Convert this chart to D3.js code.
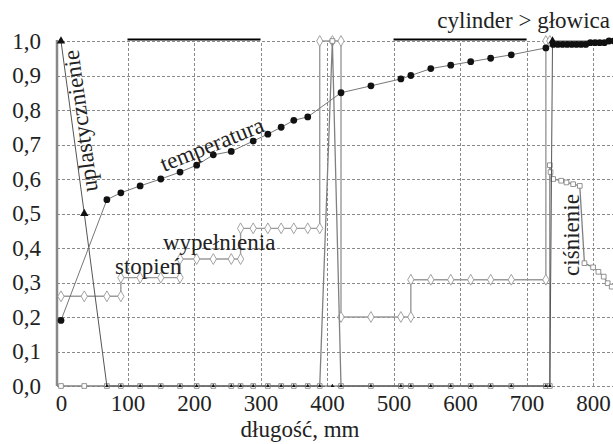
<!DOCTYPE html>
<html>
<head>
<meta charset="utf-8">
<script src="https://cdn.jsdelivr.net/npm/d3@7"></script>
<style>
  body { margin: 0; background: #fff; }
  svg text { font-family: 'Liberation Serif', 'Times New Roman', 'DejaVu Serif', serif; }
</style>
</head>
<body>
<svg id="chart" width="613" height="444"></svg>
<script>
// axis ticks
const xTicks = [0, 100, 200, 300, 400, 500, 600, 700, 800];
const yTicks = [0, 0.1, 0.2, 0.3, 0.4, 0.5, 0.6, 0.7, 0.8, 0.9, 1.0];

// temperatura (filled circles)
const tempX = [0, 69, 90, 119, 150, 179, 204, 229, 256, 289, 311, 331, 350, 371, 421, 466, 511, 526, 556, 586, 616, 646, 677, 729,
  740, 747, 754, 761, 768, 775, 782, 789, 796, 803, 810, 817, 824, 831];
const tempY = [0.19, 0.54, 0.56, 0.58, 0.60, 0.62, 0.64, 0.67, 0.68, 0.71, 0.73, 0.75, 0.77, 0.78, 0.85, 0.87, 0.89, 0.90, 0.92, 0.93, 0.94, 0.95, 0.96, 0.98,
  0.99, 0.99, 0.99, 0.99, 0.99, 0.99, 0.99, 0.99, 0.995, 0.995, 0.995, 0.995, 1.0, 1.0];

// uplastycznienie (filled triangles)
const uplX = [0, 35, 69, 90, 119, 150, 179, 204, 229, 256, 270, 289, 311, 331, 350, 371, 389, 408, 421, 466, 511, 526, 556, 586, 616, 646, 677, 729, 735, 739, 840];
const uplY = [1.0, 0.5, 0, 0, 0, 0, 0, 0, 0, 0, 0, 0, 0, 0, 0, 0, 0, 0, 0, 0, 0, 0, 0, 0, 0, 0, 0, 0, 0, 1.0, 1.0];

// stopień wypełnienia (open diamonds)
const wypX = [0, 35, 69, 90, 90, 119, 150, 179, 179, 204, 229, 256, 270, 270, 289, 311, 331, 350, 371, 389, 389, 408, 421, 421,
  466, 511, 526, 526, 556, 586, 616, 646, 677, 729, 729, 735];
const wypY = [0.26, 0.26, 0.26, 0.26, 0.314, 0.314, 0.314, 0.314, 0.368, 0.368, 0.368, 0.368, 0.368, 0.457, 0.457, 0.457, 0.457, 0.457, 0.457, 0.457, 1.0, 1.0, 1.0, 0.2,
  0.2, 0.2, 0.2, 0.308, 0.308, 0.308, 0.308, 0.308, 0.308, 0.308, 1.0, 1.0];

// ciśnienie (open squares)
const presX = [0, 35, 69, 90, 119, 150, 179, 204, 229, 256, 270, 289, 311, 331, 350, 371, 389, 408, 421, 466, 511, 526, 556, 586, 616, 646, 677, 729, 735,
  735, 736, 740, 752, 760, 770, 780, 787, 800, 808, 816, 822, 828, 836];
const presY = [0, 0, 0, 0, 0, 0, 0, 0, 0, 0, 0, 0, 0, 0, 0, 0, 0, 1.0, 0, 0, 0, 0, 0, 0, 0, 0, 0, 0, 0,
  0.64, 0.62, 0.60, 0.595, 0.59, 0.585, 0.58, 0.356, 0.344, 0.331, 0.317, 0.298, 0.288, 0.27];

// black bar segments along the top edge
const barStarts = [100, 500];
const barEnds = [300, 700];

const FONT = "'Liberation Serif', 'Times New Roman', 'DejaVu Serif', serif";

const svg = d3.select('#chart');

const x = d3.scaleLinear().domain([-6, 834]).range([57, 615.7]);
const y = d3.scaleLinear().domain([0, 1]).range([386, 41]);

// grid
const grid = svg.append('g').attr('class', 'grid')
  .attr('stroke', '#8a8a8a').attr('stroke-width', 1).attr('stroke-dasharray', '3,2');
grid.selectAll('line.v')
  .data(xTicks.filter(d => d > 0))
  .join('line')
  .attr('class', 'v')
  .attr('x1', d => Math.round(x(d)) + 0.5).attr('x2', d => Math.round(x(d)) + 0.5)
  .attr('y1', y(0)).attr('y2', y(1));
grid.selectAll('line.h')
  .data(yTicks)
  .join('line')
  .attr('class', 'h')
  .attr('x1', x(-6)).attr('x2', 613)
  .attr('y1', d => Math.round(y(d)) + 0.5).attr('y2', d => Math.round(y(d)) + 0.5);

// left axis line
svg.append('line')
  .attr('x1', x(-6)).attr('x2', x(-6))
  .attr('y1', y(0)).attr('y2', y(1) - 1)
  .attr('stroke', '#888').attr('stroke-width', 2.5);

// top bar
svg.append('g').selectAll('line')
  .data(barStarts)
  .join('line')
  .attr('x1', d => x(d)).attr('x2', (d, i) => x(barEnds[i]))
  .attr('y1', y(1) - 1.5).attr('y2', y(1) - 1.5)
  .attr('stroke', '#000').attr('stroke-width', 2);

const lineGen = d3.line().x(d => x(d[0])).y(d => y(d[1]));

function drawSeries(xs, ys, opts) {
  const pts = xs.map((v, i) => [v, ys[i]]);
  const g = svg.append('g').attr('class', opts.name);
  g.append('path')
    .datum(pts)
    .attr('fill', 'none')
    .attr('stroke', opts.stroke)
    .attr('stroke-width', opts.width)
    .attr('d', lineGen);
  g.selectAll('path.marker')
    .data(pts.filter(p => x(p[0]) < 620))
    .join('path')
    .attr('class', 'marker')
    .attr('transform', d => `translate(${x(d[0])},${y(d[1])})`)
    .attr('d', d => d3.symbol().type(opts.symbol).size(d[1] === 0 && opts.zeroSize ? opts.zeroSize : opts.size)())
    .attr('fill', opts.fill)
    .attr('stroke', opts.markerStroke)
    .attr('stroke-width', 0.9);
}

drawSeries(wypX, wypY, { name: 'wyp', stroke: '#9a9a9a', width: 1.4, symbol: d3.symbolDiamond, size: 34, fill: '#fff', markerStroke: '#999' });
drawSeries(presX, presY, { name: 'pres', stroke: '#808080', width: 1.3, symbol: d3.symbolSquare, size: 22, fill: '#fff', markerStroke: '#888' });
drawSeries(uplX, uplY, { name: 'upl', stroke: '#555', width: 1, symbol: d3.symbolTriangle, size: 30, zeroSize: 6, fill: '#111', markerStroke: 'none' });
drawSeries(tempX, tempY, { name: 'temp', stroke: '#777', width: 1, symbol: d3.symbolCircle, size: 36, fill: '#111', markerStroke: 'none' });

// axes
const fmt = d => d3.format('.1f')(d).replace('.', ',');

const xAxisG = svg.append('g')
  .attr('transform', `translate(0,${y(0)})`)
  .call(d3.axisBottom(x).tickValues(xTicks).tickSize(0).tickPadding(9).tickFormat(d3.format('d')));
xAxisG.select('.domain').remove();

const yAxisG = svg.append('g')
  .attr('transform', `translate(${x(-6)},0)`)
  .call(d3.axisLeft(y).tickValues(yTicks).tickSize(0).tickPadding(16).tickFormat(fmt));
yAxisG.select('.domain').remove();

xAxisG.attr('font-family', FONT).attr('font-size', 23);
yAxisG.attr('font-family', FONT).attr('font-size', 23);
svg.selectAll('.tick text')
  .attr('fill', '#222');

// texts
const textG = svg.append('g')
  .attr('font-family', FONT)
  .attr('font-size', 23).attr('fill', '#222');

textG.append('text')
  .attr('x', 300).attr('y', 437)
  .attr('text-anchor', 'middle')
  .text('długość, mm');

textG.append('text')
  .attr('x', 610).attr('y', 28)
  .attr('text-anchor', 'end')
  .text('cylinder > głowica');

textG.append('text')
  .attr('transform', 'translate(88,120) rotate(-97.8)')
  .attr('text-anchor', 'middle')
  .text('uplastycznienie');

textG.append('text')
  .attr('transform', 'translate(164,172) rotate(-22)')
  .text('temperatura');

textG.append('text')
  .attr('x', 115).attr('y', 274)
  .text('stopień');

textG.append('text')
  .attr('x', 163).attr('y', 250)
  .text('wypełnienia');

textG.append('text')
  .attr('transform', 'translate(579,235) rotate(-90)')
  .attr('text-anchor', 'middle')
  .text('ciśnienie');
</script>
</body>
</html>
